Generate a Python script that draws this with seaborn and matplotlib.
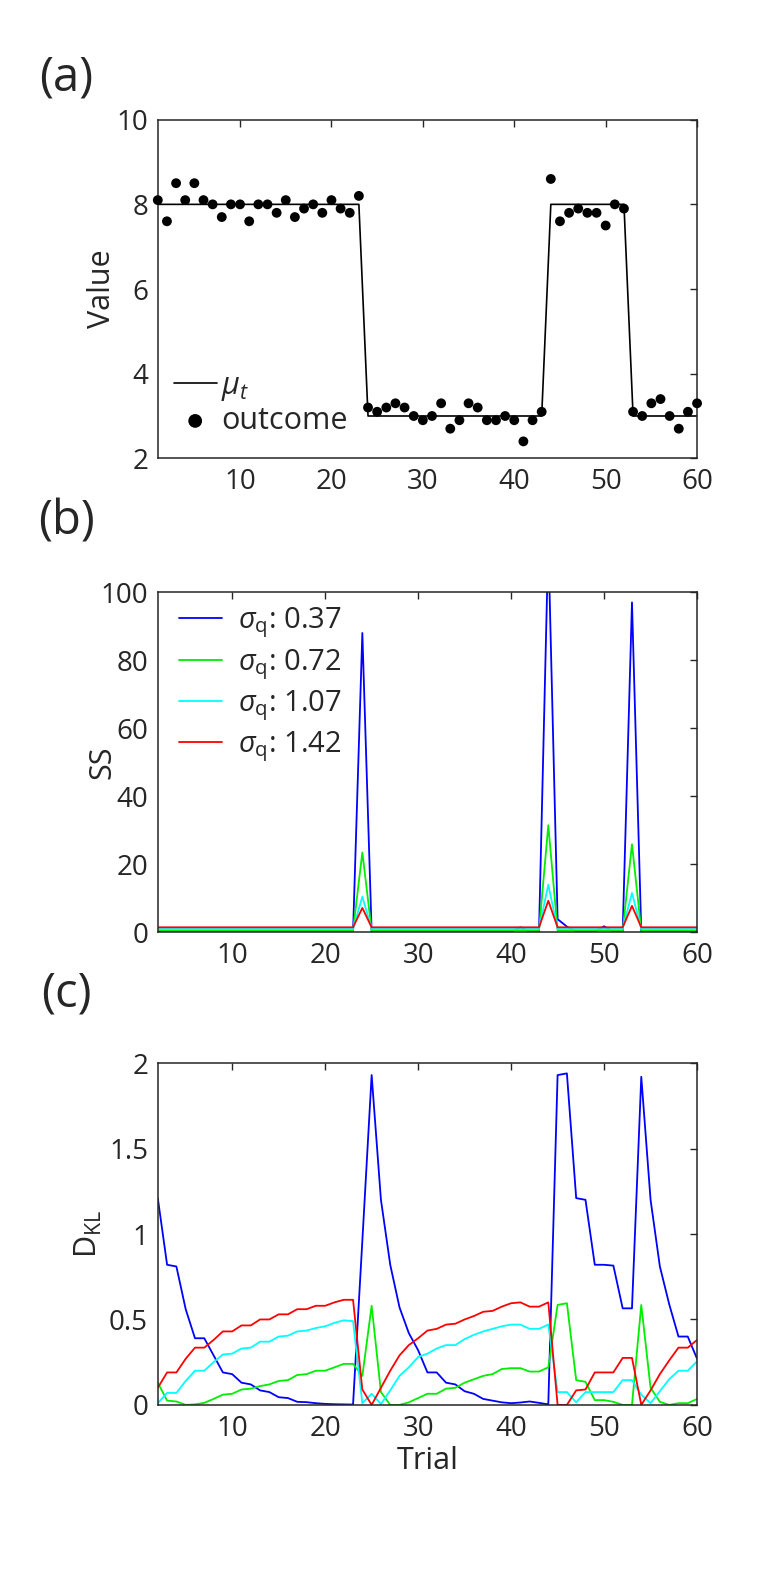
import matplotlib
matplotlib.use('Agg')
import matplotlib.pyplot as plt
import seaborn as sns
import pandas as pd

# ---- panel (a): generative mean and observed outcomes ----
trial = list(range(1, 61))
mu_t = [8, 8, 8, 8, 8, 8, 8, 8, 8, 8, 8, 8, 8, 8, 8, 8, 8, 8, 8, 8, 8, 8, 8,
        3, 3, 3, 3, 3, 3, 3, 3, 3, 3, 3, 3, 3, 3, 3, 3, 3, 3, 3, 3,
        8, 8, 8, 8, 8, 8, 8, 8, 8,
        3, 3, 3, 3, 3, 3, 3, 3]
outcome = [8.1, 7.6, 8.5, 8.1, 8.5, 8.1, 8.0, 7.7, 8.0, 8.0,
           7.6, 8.0, 8.0, 7.8, 8.1, 7.7, 7.9, 8.0, 7.8, 8.1,
           7.9, 7.8, 8.2, 3.2, 3.1, 3.2, 3.3, 3.2, 3.0, 2.9,
           3.0, 3.3, 2.7, 2.9, 3.3, 3.2, 2.9, 2.9, 3.0, 2.9,
           2.4, 2.9, 3.1, 8.6, 7.6, 7.8, 7.9, 7.8, 7.8, 7.5,
           8.0, 7.9, 3.1, 3.0, 3.3, 3.4, 3.0, 2.7, 3.1, 3.3]

# ---- panels (b) and (c): trials 2..60 ----
trial_bc = list(range(2, 61))
sigma_labels = [r'$\sigma_{\mathrm{q}}$: 0.37', r'$\sigma_{\mathrm{q}}$: 0.72',
                r'$\sigma_{\mathrm{q}}$: 1.07', r'$\sigma_{\mathrm{q}}$: 1.42']
colors = ['#0000ff', '#00ee00', '#00ffff', '#ff0000']

ss_037 = [0.15, 0.15, 0.15, 0.15, 0.15, 0.15, 0.15, 0.15, 0.15, 0.15, 0.15,
          0.15, 0.15, 0.15, 0.15, 0.15, 0.15, 0.15, 0.15, 0.15, 0.15, 0.15,
          88.0, 0.15, 0.15, 0.15, 0.15, 0.15, 0.15, 0.15, 0.15, 0.15, 0.15,
          0.15, 0.15, 0.15, 0.15, 0.15, 0.15, 1.5, 0.15, 0.15, 115.0, 3.9,
          1.7, 0.3, 0.15, 0.15, 1.8, 0.15, 0.15, 97.0, 0.15, 0.15, 0.15,
          0.15, 0.15, 0.15, 0.15]
ss_072 = [0.6, 0.6, 0.6, 0.6, 0.6, 0.6, 0.6, 0.6, 0.6, 0.6, 0.6,
          0.6, 0.6, 0.6, 0.6, 0.6, 0.6, 0.6, 0.6, 0.6, 0.6, 0.6,
          23.5, 0.6, 0.6, 0.6, 0.6, 0.6, 0.6, 0.6, 0.6, 0.6, 0.6,
          0.6, 0.6, 0.6, 0.6, 0.6, 0.6, 0.6, 0.6, 0.6, 31.5, 0.6,
          0.6, 0.6, 0.6, 0.6, 0.6, 0.6, 0.6, 25.9, 0.6, 0.6, 0.6,
          0.6, 0.6, 0.6, 0.6]
ss_107 = [1.0, 1.0, 1.0, 1.0, 1.0, 1.0, 1.0, 1.0, 1.0, 1.0, 1.0,
          1.0, 1.0, 1.0, 1.0, 1.0, 1.0, 1.0, 1.0, 1.0, 1.0, 1.0,
          10.5, 1.0, 1.0, 1.0, 1.0, 1.0, 1.0, 1.0, 1.0, 1.0, 1.0,
          1.0, 1.0, 1.0, 1.0, 1.0, 1.0, 1.0, 1.0, 1.0, 14.0, 1.0,
          1.0, 1.0, 1.0, 1.0, 1.0, 1.0, 1.0, 11.6, 1.0, 1.0, 1.0,
          1.0, 1.0, 1.0, 1.0]
ss_142 = [1.5, 1.5, 1.5, 1.5, 1.5, 1.5, 1.5, 1.5, 1.5, 1.5, 1.5,
          1.5, 1.5, 1.5, 1.5, 1.5, 1.5, 1.5, 1.5, 1.5, 1.5, 1.5,
          7.2, 1.5, 1.5, 1.5, 1.5, 1.5, 1.5, 1.5, 1.5, 1.5, 1.5,
          1.5, 1.5, 1.5, 1.5, 1.5, 1.5, 1.5, 1.5, 1.5, 9.3, 1.5,
          1.5, 1.5, 1.5, 1.5, 1.5, 1.5, 1.5, 7.8, 1.5, 1.5, 1.5,
          1.5, 1.5, 1.5, 1.5]

dkl_037 = [1.21, 0.82, 0.81, 0.56, 0.39, 0.39, 0.29, 0.19, 0.18, 0.13,
           0.12, 0.085, 0.075, 0.045, 0.04, 0.018, 0.016, 0.01, 0.006, 0.004,
           0.003, 0.002, 0.96, 1.93, 1.2, 0.82, 0.57, 0.42, 0.32, 0.19,
           0.19, 0.13, 0.12, 0.08, 0.065, 0.035, 0.025, 0.015, 0.01, 0.014,
           0.02, 0.012, 0.003, 1.93, 1.94, 1.21, 1.2, 0.82, 0.82, 0.815,
           0.565, 0.565, 1.92, 1.2, 0.81, 0.59, 0.4, 0.4, 0.27]
dkl_072 = [0.13, 0.025, 0.02, 0.0, 0.003, 0.012, 0.035, 0.06, 0.065, 0.09,
           0.095, 0.11, 0.12, 0.14, 0.145, 0.175, 0.18, 0.2, 0.2, 0.22,
           0.24, 0.24, 0.17, 0.58, 0.075, 0.0, 0.0, 0.015, 0.04, 0.065,
           0.065, 0.095, 0.1, 0.13, 0.15, 0.17, 0.18, 0.21, 0.215, 0.215,
           0.195, 0.195, 0.22, 0.585, 0.595, 0.145, 0.135, 0.028, 0.028, 0.018,
           0.0, 0.0, 0.585, 0.1, 0.018, 0.0, 0.01, 0.01, 0.035]
dkl_107 = [0.01, 0.07, 0.07, 0.14, 0.2, 0.2, 0.25, 0.295, 0.3, 0.33,
           0.335, 0.37, 0.37, 0.4, 0.405, 0.43, 0.435, 0.45, 0.46, 0.48,
           0.495, 0.49, 0.01, 0.065, 0.005, 0.085, 0.17, 0.22, 0.28, 0.3,
           0.33, 0.35, 0.35, 0.385, 0.41, 0.43, 0.445, 0.46, 0.47, 0.47,
           0.445, 0.445, 0.47, 0.075, 0.075, 0.015, 0.075, 0.075, 0.075, 0.075,
           0.145, 0.145, 0.06, 0.01, 0.08, 0.15, 0.2, 0.2, 0.255]
dkl_142 = [0.1, 0.19, 0.19, 0.27, 0.335, 0.335, 0.38, 0.43, 0.43, 0.465,
           0.465, 0.5, 0.5, 0.53, 0.53, 0.56, 0.56, 0.58, 0.58, 0.6,
           0.615, 0.615, 0.09, 0.0, 0.1, 0.2, 0.29, 0.35, 0.39, 0.435,
           0.445, 0.47, 0.475, 0.5, 0.52, 0.545, 0.55, 0.575, 0.595, 0.6,
           0.575, 0.575, 0.6, 0.0, 0.0, 0.085, 0.09, 0.19, 0.19, 0.19,
           0.275, 0.275, 0.0, 0.085, 0.18, 0.26, 0.335, 0.335, 0.38]


def long_frame(series, name):
    parts = []
    for lab, vals in zip(sigma_labels, series):
        parts.append(pd.DataFrame({'trial': trial_bc, name: vals, 'sigma': lab}))
    return pd.concat(parts, ignore_index=True)


def style_axes(ax):
    ax.tick_params(direction='in', top=True, right=True, length=5, width=1,
                   labelsize=20, colors='#262626', pad=7)
    for s in ax.spines.values():
        s.set_visible(True)
        s.set_linewidth(1.1)
        s.set_color('#262626')


sns.set_style('white')
plt.rcParams['font.family'] = ['Open Sans', 'DejaVu Sans']
plt.rcParams['mathtext.fontset'] = 'custom'
plt.rcParams['mathtext.rm'] = 'Open Sans'
plt.rcParams['mathtext.it'] = 'Open Sans:italic'
plt.rcParams['text.color'] = '#262626'
plt.rcParams['axes.labelcolor'] = '#262626'

fig = plt.figure(figsize=(7.66, 15.75), dpi=100)
ax_a = fig.add_axes([0.206, 0.709, 0.704, 0.215])
ax_b = fig.add_axes([0.206, 0.408, 0.704, 0.216])
ax_c = fig.add_axes([0.206, 0.108, 0.704, 0.217])

# (a)
df_a = pd.DataFrame({'trial': trial, 'mu': mu_t, 'outcome': outcome})
sns.lineplot(data=df_a, x='trial', y='mu', color='black', lw=1.2,
             label=r'$\mu_t$', ax=ax_a, estimator=None, sort=False)
sns.scatterplot(data=df_a, x='trial', y='outcome', color='black', s=50,
                edgecolor='none', label='outcome', ax=ax_a, clip_on=False, zorder=3)
ax_a.set_xlim(1, 60)
ax_a.set_ylim(2, 10)
ax_a.set_xticks([10, 20, 30, 40, 50, 60])
ax_a.set_yticks([2, 4, 6, 8, 10])
ax_a.set_xlabel('')
ax_a.set_ylabel('Value', fontsize=22)
ax_a.legend(loc='lower left', bbox_to_anchor=(0.007, 0.03), frameon=False,
            fontsize=22, handlelength=1.4, handletextpad=0.15, markerscale=1.4,
            borderaxespad=0, labelspacing=0.1)

# (b)
df_b = long_frame([ss_037, ss_072, ss_107, ss_142], 'SS')
sns.lineplot(data=df_b, x='trial', y='SS', hue='sigma', palette=colors,
             lw=1.3, ax=ax_b, estimator=None, sort=False)
ax_b.set_xlim(2, 60)
ax_b.set_ylim(0, 100)
ax_b.set_xticks([10, 20, 30, 40, 50, 60])
ax_b.set_yticks([0, 20, 40, 60, 80, 100])
ax_b.set_xlabel('')
ax_b.set_ylabel('SS', fontsize=22)
h, l = ax_b.get_legend_handles_labels()
ax_b.legend(h, l, loc='upper left', bbox_to_anchor=(0.017, 0.995), frameon=False,
            fontsize=21, handlelength=1.5, handletextpad=0.55,
            borderaxespad=0, labelspacing=0.22)

# (c)
df_c = long_frame([dkl_037, dkl_072, dkl_107, dkl_142], 'DKL')
sns.lineplot(data=df_c, x='trial', y='DKL', hue='sigma', palette=colors,
             lw=1.3, ax=ax_c, estimator=None, sort=False, legend=False)
ax_c.set_xlim(2, 60)
ax_c.set_ylim(0, 2)
ax_c.set_xticks([10, 20, 30, 40, 50, 60])
ax_c.set_yticks([0, 0.5, 1, 1.5, 2])
ax_c.set_yticklabels(['0', '0.5', '1', '1.5', '2'])
ax_c.set_xlabel('Trial', fontsize=22)
ax_c.set_ylabel(r'D$_{\mathrm{KL}}$', fontsize=22)

for ax in (ax_a, ax_b, ax_c):
    style_axes(ax)
ax_a.yaxis.set_label_coords(-0.075, 0.5)
ax_b.yaxis.set_label_coords(-0.075, 0.5)
ax_c.yaxis.set_label_coords(-0.10, 0.5)
ax_c.xaxis.set_label_coords(0.5, -0.12)

fig.text(0.087, 1 - 78 / 1575, '(a)', fontsize=34, ha='center', va='center')
fig.text(0.087, 1 - 522 / 1575, '(b)', fontsize=34, ha='center', va='center')
fig.text(0.087, 1 - 994 / 1575, '(c)', fontsize=34, ha='center', va='center')

fig.savefig('out.png', dpi=100)
